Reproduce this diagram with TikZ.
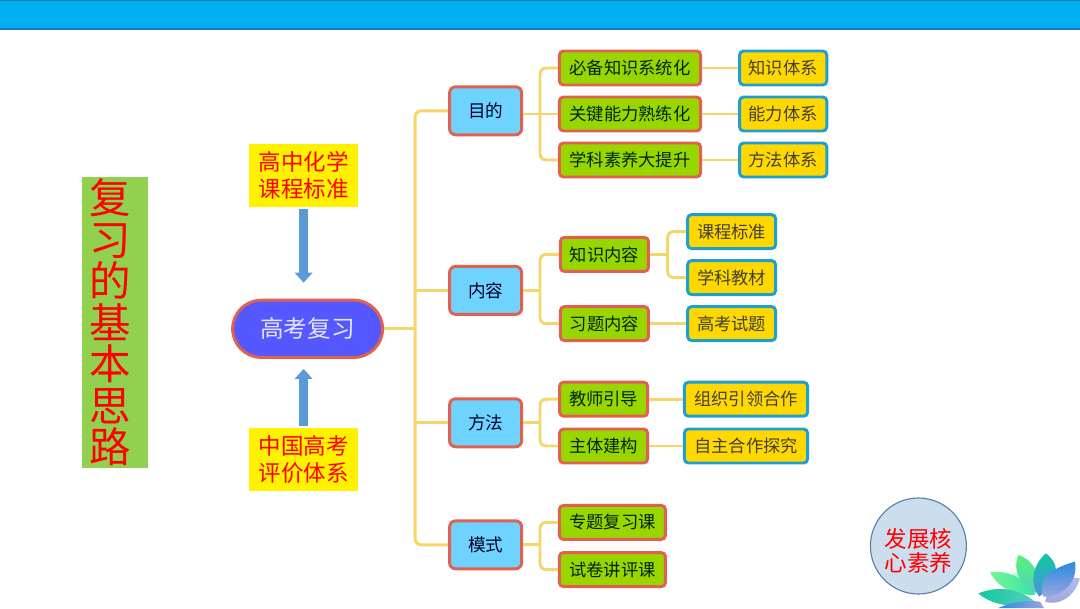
\documentclass[tikz,border=0pt]{standalone}
\usepackage{fontspec}
\setmainfont{Noto Sans CJK SC}
\usetikzlibrary{arrows.meta, positioning, shapes.misc}
\definecolor{barblue}{HTML}{00B0F0}
\definecolor{baredge}{HTML}{1F78B4}
\definecolor{leftgreen}{HTML}{92D050}
\definecolor{edgered}{HTML}{E2604F}
\definecolor{edgeblue}{HTML}{1E9FD2}
\definecolor{skyfill}{HTML}{6FD3FF}
\definecolor{limefill}{HTML}{99D600}
\definecolor{goldfill}{HTML}{FFD800}
\definecolor{linkgold}{HTML}{F6D56A}
\definecolor{rootblue}{HTML}{5558FF}
\definecolor{arrowblue}{HTML}{5B9BD5}
\definecolor{softcircle}{HTML}{CCDDEE}
\definecolor{circleedge}{HTML}{5A80A8}
\definecolor{petalgreen}{HTML}{58F07C}
\definecolor{petalmint}{HTML}{30E8A8}
\definecolor{petalteal}{HTML}{10C8A0}
\definecolor{petalblue}{HTML}{2A8AE0}
\definecolor{petalpurple}{HTML}{9AA5E0}

\begin{document}
\begin{tikzpicture}[
    every node/.style={align=center, inner sep=0pt},
    rootbox/.style={rounded rectangle, draw=edgered, fill=rootblue, line width=2.1pt, minimum width=3.75cm, minimum height=1.43cm, text=white!90!blue, font=\fontsize{16.8}{20}\selectfont},
    topic/.style={rectangle, rounded corners=1.5mm, draw=edgered, fill=skyfill, line width=2.1pt, minimum width=1.8cm, minimum height=1.2cm, text=black!85!blue, font=\fontsize{12.5}{15}\selectfont},
    sub/.style={rectangle, rounded corners=1mm, draw=edgered, fill=limefill, line width=2.1pt, minimum height=0.85cm, text=black!85!green, font=\fontsize{12.3}{15}\selectfont},
    leaf/.style={rectangle, rounded corners=1mm, draw=edgeblue, fill=goldfill, line width=2.1pt, minimum height=0.85cm, text=black!85!yellow, font=\fontsize{12.3}{15}\selectfont},
    source/.style={rectangle, fill=yellow, text=red, minimum width=2.73cm, minimum height=1.58cm, font=\fontsize{16}{19}\selectfont},
    link/.style={draw=linkgold, line width=2.1pt, rounded corners=1.5mm},
    bigarrow/.style={-{Triangle[length=2.5mm,width=4.3mm]}, draw=arrowblue, fill=arrowblue, line width=6.4pt}
]
\useasboundingbox (0,0) rectangle (27,15.2);

% Top bar
\fill[barblue] (0,14.475) rectangle (27,15.2);
\draw[baredge, line width=1.4pt] (0,14.475) -- (27,14.475);
\draw[baredge, line width=0.7pt] (0,15.19) -- (27,15.19);

% Title block
\node[fill=leftgreen, minimum width=1.65cm, minimum height=7.28cm, label={[xshift=-0.125cm, text=red, font=\fontsize{29.5}{29.5}\selectfont]center:复\\习\\的\\基\\本\\思\\路}] (title) at (2.88,7.14) {};

% Root and sources
\node[rootbox] (root) at (7.69,6.98) {高考复习};
\node[source] (kcbz) at (7.59,10.81) {高中化学\\课程标准};
\node[source] (pjtx) at (7.59,3.71) {中国高考\\评价体系};
\draw[bigarrow, shorten <=0.05cm, shorten >=0.4cm] (kcbz.south) -- (kcbz.south |- root.north);
\draw[bigarrow, shorten <=0.05cm, shorten >=0.25cm] (pjtx.north) -- (pjtx.north |- root.south);

% Topics
\node[topic] (mudi)  at (12.14,12.43) {目的};
\node[topic] (neirong) at (12.14,7.94) {内容};
\node[topic] (fangfa) at (12.14,4.63) {方法};
\node[topic] (moshi) at (12.14,1.58) {模式};

% Second level
\node[sub, minimum width=3.53cm] (bibei) at (15.75,13.5) {必备知识系统化};
\node[sub, minimum width=3.53cm] (guanjian) at (15.75,12.35) {关键能力熟练化};
\node[sub, minimum width=3.53cm] (suyang) at (15.75,11.2) {学科素养大提升};
\node[sub, minimum width=2.2cm] (zhishi) at (15.11,8.84) {知识内容};
\node[sub, minimum width=2.2cm] (xiti) at (15.11,7.11) {习题内容};
\node[sub, minimum width=2.2cm] (jiaoshi) at (15.09,5.22) {教师引导};
\node[sub, minimum width=2.2cm] (zhuti) at (15.09,4.05) {主体建构};
\node[sub, minimum width=2.65cm] (zhuanti) at (15.31,2.14) {专题复习课};
\node[sub, minimum width=2.65cm] (shijuan) at (15.31,0.96) {试卷讲评课};

% Leaves
\node[leaf, minimum width=2.18cm] (zstx) at (19.58,13.5) {知识体系};
\node[leaf, minimum width=2.18cm] (nltx) at (19.58,12.35) {能力体系};
\node[leaf, minimum width=2.18cm] (fftx) at (19.58,11.2) {方法体系};
\node[leaf, minimum width=2.2cm] (kebiao) at (18.29,9.41) {课程标准};
\node[leaf, minimum width=2.2cm] (jiaocai) at (18.29,8.26) {学科教材};
\node[leaf, minimum width=2.2cm] (shiti) at (18.29,7.11) {高考试题};
\node[leaf, minimum width=3.08cm] (zuzhi) at (18.65,5.22) {组织引领合作};
\node[leaf, minimum width=3.08cm] (zizhu) at (18.65,4.05) {自主合作探究};

% Free bends of the tree
\coordinate (trunk) at (10.38,6.98);
\coordinate (busa) at (13.5,12.35);
\coordinate (busb) at (13.5,7.94);
\coordinate (busc) at (13.5,4.63);
\coordinate (busd) at (13.5,1.58);
\coordinate (buse) at (16.69,8.84);

% Links
\draw[link] (root.east) -- (trunk);
\draw[link] (mudi.west) -| (trunk) |- (moshi.west);
\draw[link] (neirong.west) -- (neirong.west -| trunk);
\draw[link] (fangfa.west) -- (fangfa.west -| trunk);
\draw[link] (mudi.east |- guanjian.west) -- (guanjian.west);
\draw[link] (bibei.west) -| (busa) |- (suyang.west);
\draw[link] (neirong.east) -- (busb);
\draw[link] (zhishi.west) -| (busb) |- (xiti.west);
\draw[link] (fangfa.east) -- (busc);
\draw[link] (jiaoshi.west) -| (busc) |- (zhuti.west);
\draw[link] (moshi.east) -- (busd);
\draw[link] (zhuanti.west) -| (busd) |- (shijuan.west);
\draw[link] (bibei) -- (zstx);
\draw[link] (guanjian) -- (nltx);
\draw[link] (suyang) -- (fftx);
\draw[link] (zhishi.east) -- (buse);
\draw[link] (kebiao.west) -| (buse) |- (jiaocai.west);
\draw[link] (xiti) -- (shiti);
\draw[link] (jiaoshi) -- (zuzhi);
\draw[link] (zhuti) -- (zizhu);

% Corner circle
\node[circle, draw=circleedge, fill=softcircle, thick, minimum size=2.4cm, label={[yshift=-0.125cm, text=red, font=\fontsize{16}{17.5}\selectfont]center:发展核\\心素养}] (hexin) at (22.96,1.55) {};

% Lotus
\shade[top color=petalpurple!70, bottom color=petalpurple] (27.0,0.74) .. controls (26.5,0.85) and (26.2,0.5) .. (26.125,0.158) .. controls (26.45,0.05) and (26.85,0.25) .. (27.0,0.74);
\shade[top color=petalgreen!35, bottom color=petalmint!40] (25.29,0.89) .. controls (25.6,0.85) and (25.8,0.6) .. (25.9,0.35) .. controls (25.6,0.4) and (25.3,0.6) .. (25.29,0.89);
\shade[left color=petalgreen!80, right color=petalmint] (24.75,0.892) .. controls (25.2,0.95) and (25.65,0.75) .. (25.875,0.325) .. controls (25.3,0.32) and (24.95,0.52) .. (24.75,0.892);
\shade[left color=petalteal, right color=petalmint!60!petalpurple] (24.458,0.367) .. controls (24.95,0.56) and (25.45,0.5) .. (25.875,0.158) .. controls (25.33,-0.05) and (24.75,0.1) .. (24.458,0.367);
\shade[top color=petalgreen, bottom color=petalmint!70!petalpurple] (25.458,1.325) .. controls (25.85,1.2) and (26.05,0.8) .. (25.9,0.367) .. controls (25.5,0.55) and (25.3,0.95) .. (25.458,1.325);
\shade[top color=petalteal, bottom color=petalblue!70!petalpurple] (26.15,1.367) .. controls (26.55,1.05) and (26.45,0.65) .. (25.98,0.283) .. controls (25.75,0.6) and (25.78,1.05) .. (26.15,1.367);
\shade[left color=petalblue, right color=petalpurple] (24.958,0) .. controls (25.33,0.158) and (25.67,0.2) .. (26,0.158) -- (26.1,0) -- cycle;
\shade[top color=petalblue, bottom color=petalpurple] (26.875,1.158) .. controls (26.1,0.95) and (25.95,0.6) .. (26.083,0.283) .. controls (26.65,0.3) and (26.95,0.7) .. (26.875,1.158);
\end{tikzpicture}
\end{document}
